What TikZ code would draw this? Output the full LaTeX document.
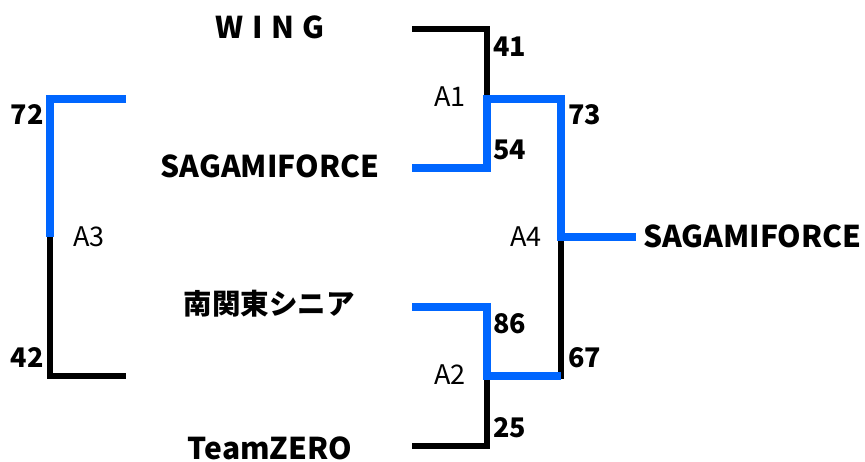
\documentclass[tikz,border=0pt]{standalone}
\usepackage{fontspec}
\setmainfont{Noto Sans CJK JP}
\usetikzlibrary{positioning}
\definecolor{winblue}{RGB}{0,102,255}
\begin{document}
\begin{tikzpicture}[x=1pt,y=-1pt,
  team/.style={font=\fontsize{30}{32}\selectfont\bfseries, inner sep=0},
  score/.style={font=\fontsize{27}{30}\selectfont\bfseries, inner sep=0},
  game/.style={font=\fontsize{27}{30}\selectfont, inner sep=0},
  lost/.style={line width=6pt, black},
  won/.style={line width=8pt, winblue}]
\useasboundingbox (0,0) rectangle (865,462);
\foreach \n/\y/\t in {wing/27/W\hspace{8.5pt}I\hspace{8.5pt}N\hspace{8.5pt}G, sagami/166/SAGAMIFORCE, zero/448/TeamZERO}
  \node[team] (\n) at (270,\y) {\t};
\node[team, font=\fontsize{28.5}{30}\selectfont\bfseries] (nankanto) at (269,304) {南関東シニア};
\node[team, anchor=west] (champ) at (643,236) {SAGAMIFORCE};
\foreach \t/\x/\y in {41/493/47, 54/493/150, 86/493/324, 25/493/428, 73/568/115, 67/568/358}
  \node[score, anchor=west] (s\t) at (\x,\y) {\t};
\foreach \t/\y in {72/115, 42/358}
  \node[score, anchor=east] (s\t) at (44,\y) {\t};
\node[game] (a1) at (450,97) {A1};
\node[game] (a2) at (450,375) {A2};
\node[game] (a3) at (89,237) {A3};
\node[game] (a4) at (526,237) {A4};
\coordinate (w1) at (412,29);
\coordinate (w2) at (412,168);
\coordinate (w3) at (412,307);
\coordinate (w4) at (412,446);
\coordinate (m1) at (487,99);
\coordinate (m2) at (487,376);
\coordinate (m4) at (561,237);
\coordinate (f) at (636,237);
\coordinate (l1) at (126,99);
\coordinate (l2) at (126,376);
\coordinate (m3) at (50,237);
\draw[lost] (w1) -| (m1);
\draw[lost] (w4) -| (m2);
\draw[lost] (m4) |- (m2);
\draw[lost] (m3) |- (l2);
\draw[won] (w2) -| (m1) -| (m4) -- (f);
\draw[won] (w3) -| (m2) -- (m2 -| m4);
\draw[won] (l1) -| (m3);
\end{tikzpicture}
\end{document}
